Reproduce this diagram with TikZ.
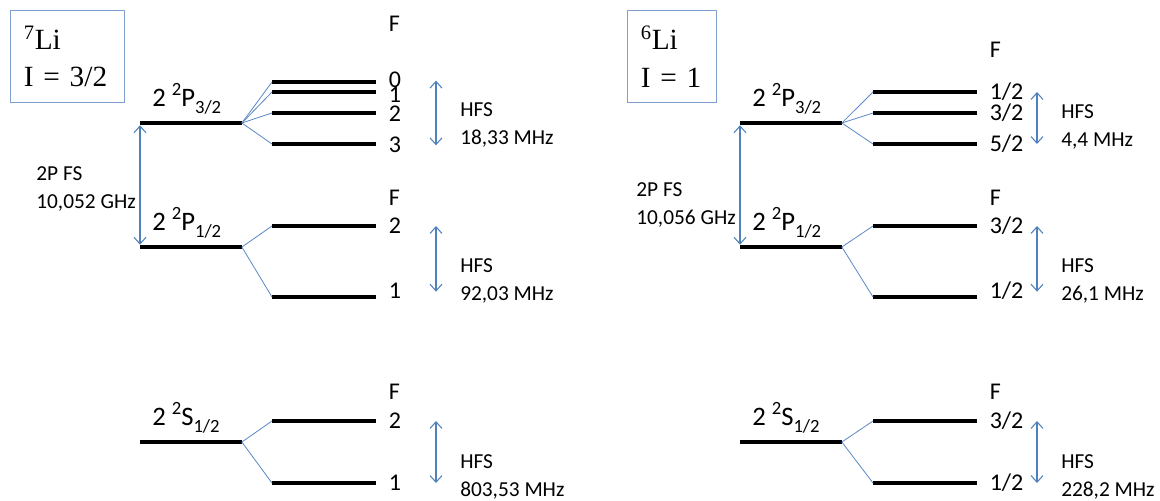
\documentclass[tikz,border=0pt]{standalone}
\usepackage{fontspec}
\setmainfont{Carlito}
\newfontfamily\timesfont{Liberation Serif}
\usetikzlibrary{arrows.meta,positioning,calc}
\definecolor{arrowblue}{HTML}{4F81BD}
\definecolor{boxblue}{HTML}{7F9FCF}
\definecolor{splitblue}{HTML}{5B87C6}
\newcommand{\upx}[1]{\raisebox{.40em}{\fontsize{14}{14}\selectfont #1}}
\newcommand{\dnx}[1]{\raisebox{-.24em}{\fontsize{14}{14}\selectfont #1}}
\tikzset{
  lvl/.style={fill=black, inner sep=0pt, minimum height=3pt, minimum width=76pt, anchor=west},
  sublvl/.style={lvl, minimum width=78pt},
  split/.style={draw=splitblue, line width=.6pt},
  gap/.style={{Straight Barb[length=5pt,width=9pt]}-{Straight Barb[length=5pt,width=9pt]}, draw=arrowblue, line width=.8pt},
  isobox/.style={draw=boxblue, line width=.8pt, font=\timesfont\fontsize{22}{28}\selectfont, align=left, anchor=north west, inner xsep=10pt, minimum height=69pt},
  term/.style={font=\fontsize{20}{22}\selectfont, inner sep=0pt},
  fnum/.style={font=\fontsize{18}{21}\selectfont, inner sep=0pt, text height=10.5pt, text depth=0pt},
  note/.style={font=\fontsize{16}{21}\selectfont, align=left, inner sep=0pt, anchor=west},
}
\begin{document}
\begin{tikzpicture}[x=0.75pt, y=-0.75pt]
  \useasboundingbox (0,0) rectangle (1160,500);
  % 7Li
  \node[isobox, text width=65.5pt] (boxa) at (10,10) {\textsuperscript{7}Li\\I = 3/2};
  \node[lvl] (p32a) at (140,123) {};
  \node[lvl] (p12a) at (140,247) {};
  \node[lvl] (s12a) at (140,442) {};
  \node[term, above right=5pt and 9pt of p32a.north west] {2 \upx{2}P\dnx{3/2}};
  \node[term, above right=5pt and 9pt of p12a.north west] {2 \upx{2}P\dnx{1/2}};
  \node[term, above right=5pt and 9pt of s12a.north west] {2 \upx{2}S\dnx{1/2}};
  \node[sublvl] (f0a) at (272,82) {};
  \node[sublvl] (f1a) at (272,92) {};
  \node[sublvl] (f2a) at (272,113) {};
  \node[sublvl] (f3a) at (272,144) {};
  \node[sublvl] (g2a) at (272,226) {};
  \node[sublvl] (g1a) at (272,297) {};
  \node[sublvl] (h2a) at (272,421) {};
  \node[sublvl] (h1a) at (272,483) {};
  \foreach \s in {f0a,f1a,f2a,f3a} \draw[split] (p32a.east) -- (\s.west);
  \foreach \s in {g2a,g1a} \draw[split] (p12a.east) -- (\s.west);
  \foreach \s in {h2a,h1a} \draw[split] (s12a.east) -- (\s.west);
  \node[fnum, right=9pt of f0a, yshift=1pt] (n0a) {0};
  \node[fnum, right=9pt of f1a, yshift=-2.5pt] (n1a) {1};
  \node[fnum, right=9pt of f2a, yshift=-1pt] (n2a) {2};
  \node[fnum, right=9pt of f3a, yshift=-1pt] (n3a) {3};
  \node[fnum, right=9pt of g2a] (m2a) {2};
  \node[fnum, right=9pt of g1a, yshift=4pt] (m1a) {1};
  \node[fnum, right=9pt of h2a] (k2a) {2};
  \node[fnum, right=9pt of h1a] (k1a) {1};
  \node[fnum, anchor=west] at (n0a.west |- 0,24) {F};
  \node[fnum, anchor=west] at (m2a.west |- 0,198) {F};
  \node[fnum, anchor=west] at (k2a.west |- 0,392) {F};
  \coordinate (ha) at (436,0);
  \draw[gap] (ha |- n0a) -- (ha |- n3a);
  \draw[gap] (ha |- m2a) -- (ha |- m1a);
  \draw[gap] (ha |- k2a) -- (ha |- k1a);
  \node[note] at (460,125) {HFS\\18,33 MHz};
  \node[note] at (460,281) {HFS\\92,03 MHz};
  \node[note] at (460,477) {HFS\\803,53 MHz};
  \draw[gap] (p32a.south west) -- (p12a.north west);
  \node[note, anchor=east] at (136,189) {2P FS\\10,052 GHz};
  % 6Li
  \node[isobox, text width=46.75pt] (boxb) at (627,10) {\textsuperscript{6}Li\\I = 1};
  \node[lvl] (p32b) at (740,123) {};
  \node[lvl] (p12b) at (740,247) {};
  \node[lvl] (s12b) at (740,442) {};
  \node[term, above right=5pt and 9pt of p32b.north west] {2 \upx{2}P\dnx{3/2}};
  \node[term, above right=5pt and 9pt of p12b.north west] {2 \upx{2}P\dnx{1/2}};
  \node[term, above right=5pt and 9pt of s12b.north west] {2 \upx{2}S\dnx{1/2}};
  \node[sublvl] (f1b) at (873,92) {};
  \node[sublvl] (f3b) at (873,113) {};
  \node[sublvl] (f5b) at (873,144) {};
  \node[sublvl] (g3b) at (873,226) {};
  \node[sublvl] (g1b) at (873,297) {};
  \node[sublvl] (h3b) at (873,421) {};
  \node[sublvl] (h1b) at (873,483) {};
  \foreach \s in {f1b,f3b,f5b} \draw[split] (p32b.east) -- (\s.west);
  \foreach \s in {g3b,g1b} \draw[split] (p12b.east) -- (\s.west);
  \foreach \s in {h3b,h1b} \draw[split] (s12b.east) -- (\s.west);
  \node[fnum, right=9pt of f1b] (n1b) {1/2};
  \node[fnum, right=9pt of f3b] (n3b) {3/2};
  \node[fnum, right=9pt of f5b] (n5b) {5/2};
  \node[fnum, right=9pt of g3b] (m3b) {3/2};
  \node[fnum, right=9pt of g1b, yshift=4pt] (m1b) {1/2};
  \node[fnum, right=9pt of h3b] (k3b) {3/2};
  \node[fnum, right=9pt of h1b] (k1b) {1/2};
  \node[fnum, anchor=west] at (n1b.west |- 0,50) {F};
  \node[fnum, anchor=west] at (m3b.west |- 0,198) {F};
  \node[fnum, anchor=west] at (k3b.west |- 0,392) {F};
  \coordinate (hb) at (1037,0);
  \draw[gap] (hb |- n1b) -- (hb |- n5b);
  \draw[gap] (hb |- m3b) -- (hb |- m1b);
  \draw[gap] (hb |- k3b) -- (hb |- k1b);
  \node[note] at (1061,127) {HFS\\4,4 MHz};
  \node[note] at (1061,281) {HFS\\26,1 MHz};
  \node[note] at (1061,477) {HFS\\228,2 MHz};
  \draw[gap] (p32b.south west) -- (p12b.north west);
  \node[note, anchor=east] at (736,205) {2P FS\\10,056 GHz};
\end{tikzpicture}
\end{document}
